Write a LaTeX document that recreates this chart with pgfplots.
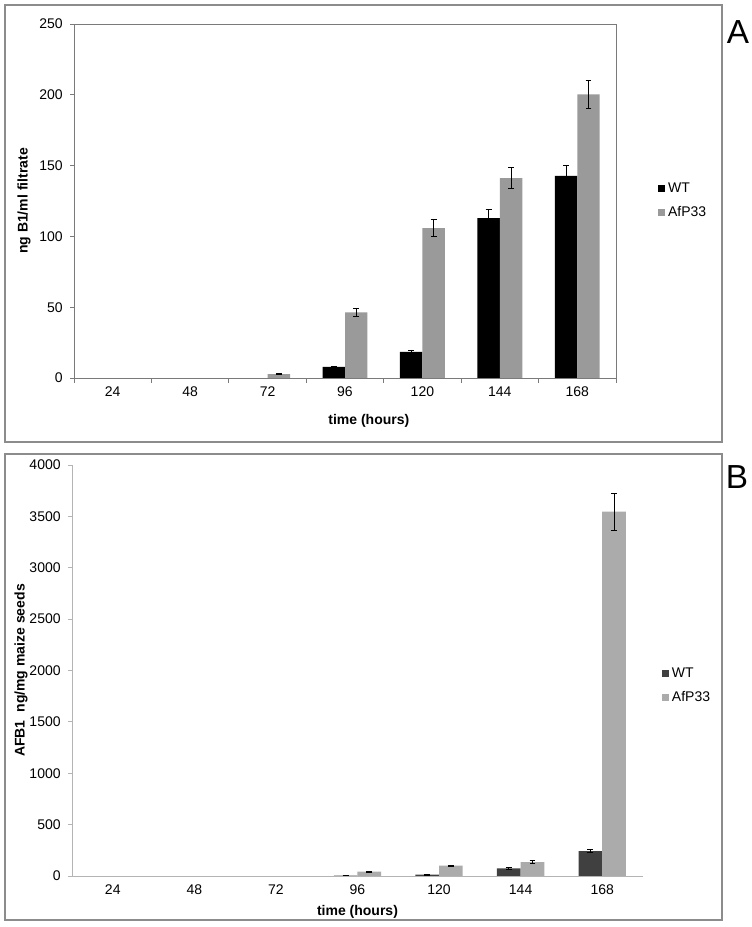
\documentclass[border=0pt]{standalone}
\usepackage{fontspec}
\setmainfont{Liberation Sans}
\usepackage{pgfplots}
\pgfplotsset{compat=1.18}
\usepackage{pgfplotstable}
\definecolor{framegray}{HTML}{8C8C8C}
\definecolor{axAgray}{HTML}{7A7A7A}
\definecolor{axBgray}{HTML}{B4B4B4}
\definecolor{wtA}{HTML}{000000}
\definecolor{afA}{HTML}{9A9A9A}
\definecolor{wtB}{HTML}{404040}
\definecolor{afB}{HTML}{ABABAB}

\pgfplotstableread{
x y e
3 7.8 0.4
4 18.4 1.4
5 112.9 6
6 142.8 7.6
}\wtA
\pgfplotstableread{
x y e
2 2.7 0.5
3 46.4 3
4 105.8 6
5 141.1 7.4
6 200.3 10
}\afA
\pgfplotstableread{
x y e
3 3 1
4 13 3
5 75 7
6 243 18
}\wtB
\pgfplotstableread{
x y e
3 42 5
4 100 8
5 136 12
6 3546 180
}\afB

\pgfplotsset{
  common/.style={
    scale only axis,
    xmin=-0.5, xmax=6.5, ymin=0,
    xtick={0,...,6},
    xticklabels={24,48,72,96,120,144,168},
    tick align=outside,
    major tick length=3pt,
    major x tick style={draw=none},
    /pgf/number format/assume math mode=true,
    /pgf/number format/1000 sep={},
    tick label style={font=\fontsize{10.5}{12}\selectfont},
    yticklabel style={xshift=-2pt},
    scaled y ticks=false,
    ybar=0pt, bar width=0.29,
    legend cell align=left,
    legend image code/.code={\fill[##1] (0pt,-2.7pt) rectangle (5.4pt,2.7pt);},
  },
  eb/.style={error bars/.cd, y dir=both, y explicit,
    error bar style={black, line width=0.6pt},
    error mark options={rotate=90, black, mark size=2.2pt, line width=0.6pt}},
}

\begin{document}
\begin{tikzpicture}
\useasboundingbox (0,0) rectangle (564pt,695.25pt);
\draw[framegray, line width=0.9pt] (3.75pt,363.75pt) rectangle (541.5pt,691.5pt);
\draw[framegray, line width=0.9pt] (3.75pt,5.25pt) rectangle (541.5pt,354.75pt);
\node[font=\fontsize{25}{28}\selectfont] at (553.5pt,671.25pt) {A};
\node[font=\fontsize{25}{28}\selectfont] at (552.75pt,337.5pt) {B};

\begin{axis}[common,
  at={(55.5pt,411.75pt)}, anchor=south west,
  width=406.5pt, height=265.5pt,
  ymax=250, ytick={0,50,...,250},
  tick pos=left,
  minor xtick={-0.5,0.5,...,6.5},
  minor tick length=3.5pt,
  axis line style={axAgray},
  every tick/.style={axAgray, line width=0.6pt},
  xlabel={\bfseries time (hours)},
  ylabel={\bfseries ng B1/ml filtrate},
  label style={font=\fontsize{10.5}{12}\selectfont},
  xlabel style={at={(axis description cs:0.544,-0.1215)}, anchor=center},
  ylabel style={at={(axis description cs:-0.0923,0.5)}, anchor=center, rotate=0},
  legend style={at={(1.0775,0.5014)}, anchor=west, draw=none, fill=none,
    inner sep=0pt, font=\fontsize{10.5}{12}\selectfont, row sep=5pt},
]
\addplot[fill=wtA, draw=none, eb] table[x=x, y=y, y error=e] {\wtA};
\addlegendentry{WT}
\addplot[fill=afA, draw=none, eb] table[x=x, y=y, y error=e] {\afA};
\addlegendentry{AfP33}
\end{axis}

\begin{axis}[common,
  at={(54pt,38.25pt)}, anchor=south west,
  width=428.25pt, height=308.25pt,
  ymax=4000, ytick={0,500,...,4000},
  axis x line*=bottom, axis y line*=left,
  axis line style={axBgray},
  every tick/.style={axBgray, line width=0.6pt},
  xlabel={\bfseries time (hours)},
  ylabel={\bfseries AFB1\ \ ng/mg maize seeds},
  label style={font=\fontsize{10.5}{12}\selectfont},
  xlabel style={at={(axis description cs:0.5,-0.0876)}, anchor=center},
  ylabel style={at={(axis description cs:-0.0893,0.5)}, anchor=center},
  legend style={at={(1.033,0.4635)}, anchor=west, draw=none, fill=none,
    inner sep=0pt, font=\fontsize{10.5}{12}\selectfont, row sep=5pt},
]
\addplot[fill=wtB, draw=none, eb] table[x=x, y=y, y error=e] {\wtB};
\addlegendentry{WT}
\addplot[fill=afB, draw=none, eb] table[x=x, y=y, y error=e] {\afB};
\addlegendentry{AfP33}
\end{axis}
\end{tikzpicture}
\end{document}
